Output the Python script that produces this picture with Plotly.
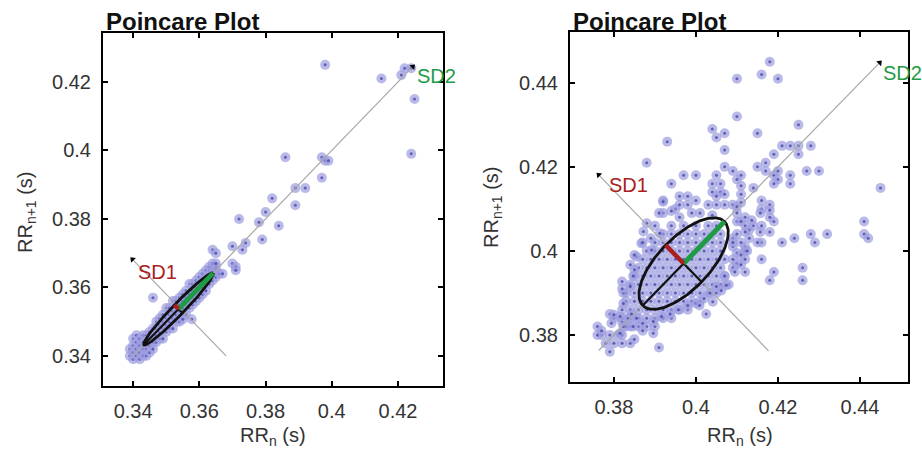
import numpy as np
import plotly.graph_objects as go

# ---------------- data ----------------
# Left panel: dense diagonal band (x, list of y)
left_band = {
    0.339: [0.340, 0.342],
    0.340: [0.339, 0.341, 0.343, 0.345],
    0.341: [0.340, 0.342, 0.344, 0.346],
    0.342: [0.339, 0.341, 0.343, 0.345],
    0.343: [0.340, 0.342, 0.344, 0.346],
    0.344: [0.340, 0.342, 0.344, 0.346],
    0.345: [0.341, 0.343, 0.345, 0.347],
    0.346: [0.342, 0.344, 0.346, 0.348],
    0.347: [0.344, 0.346, 0.348, 0.350],
    0.348: [0.345, 0.347, 0.349, 0.351],
    0.349: [0.345, 0.348, 0.350, 0.352],
    0.350: [0.347, 0.349, 0.351, 0.354],
    0.351: [0.348, 0.350, 0.352, 0.354],
    0.352: [0.348, 0.351, 0.353, 0.356],
    0.353: [0.350, 0.352, 0.354, 0.356],
    0.354: [0.350, 0.353, 0.355, 0.357],
    0.355: [0.352, 0.354, 0.356, 0.358],
    0.356: [0.352, 0.355, 0.357, 0.359],
    0.357: [0.354, 0.356, 0.358, 0.361],
    0.358: [0.355, 0.357, 0.359, 0.361],
    0.359: [0.356, 0.358, 0.360, 0.362],
    0.360: [0.357, 0.359, 0.361, 0.363],
    0.361: [0.358, 0.360, 0.362, 0.364],
    0.362: [0.359, 0.361, 0.363, 0.365],
    0.363: [0.361, 0.363, 0.365, 0.366],
    0.364: [0.362, 0.364, 0.366],
    0.365: [0.363, 0.365, 0.366],
    0.366: [0.364],
}
left_scatter = [
    (0.346, 0.357), (0.355, 0.3507), (0.3577, 0.3507),
    (0.398, 0.425), (0.415, 0.421), (0.421, 0.422), (0.422, 0.424), (0.424, 0.424),
    (0.425, 0.415), (0.424, 0.399), (0.386, 0.398), (0.397, 0.398), (0.398, 0.397),
    (0.399, 0.397), (0.397, 0.392), (0.389, 0.389), (0.392, 0.389), (0.389, 0.384),
    (0.382, 0.386), (0.380, 0.382), (0.372, 0.380), (0.378, 0.379), (0.384, 0.378),
    (0.379, 0.374), (0.374, 0.373), (0.373, 0.371), (0.370, 0.372), (0.364, 0.371),
    (0.365, 0.370), (0.364, 0.367), (0.365, 0.367), (0.370, 0.367), (0.371, 0.366),
    (0.371, 0.365), (0.367, 0.364),
]

# Right panel: dense core (y, list of x)
right_core = {
    0.382: [0.384, 0.386, 0.388, 0.390],
    0.384: [0.382, 0.384, 0.386, 0.388, 0.390, 0.392, 0.394],
    0.386: [0.382, 0.384, 0.386, 0.388, 0.390, 0.392, 0.394, 0.396, 0.398],
    0.388: [0.383, 0.385, 0.387, 0.389, 0.391, 0.393, 0.395, 0.397, 0.399, 0.401],
    0.390: [0.383, 0.385, 0.387, 0.389, 0.391, 0.393, 0.395, 0.397, 0.399, 0.401, 0.403],
    0.392: [0.384, 0.386, 0.388, 0.390, 0.392, 0.394, 0.396, 0.398, 0.400, 0.402, 0.404, 0.406],
    0.394: [0.385, 0.387, 0.389, 0.391, 0.393, 0.395, 0.397, 0.399, 0.401, 0.403, 0.405, 0.407],
    0.396: [0.386, 0.388, 0.390, 0.392, 0.394, 0.396, 0.398, 0.400, 0.402, 0.404, 0.406],
    0.398: [0.387, 0.389, 0.391, 0.393, 0.395, 0.397, 0.399, 0.401, 0.403, 0.405, 0.407],
    0.400: [0.388, 0.390, 0.392, 0.394, 0.396, 0.398, 0.400, 0.402, 0.404, 0.406],
    0.402: [0.390, 0.392, 0.394, 0.396, 0.398, 0.400, 0.402, 0.404, 0.406],
    0.404: [0.392, 0.394, 0.396, 0.398, 0.400, 0.402, 0.404, 0.406],
    0.406: [0.394, 0.397, 0.400, 0.403, 0.405],
}
right_scatter = [
    (0.418, 0.445), (0.416, 0.442), (0.420, 0.441), (0.410, 0.441), (0.410, 0.432),
    (0.404, 0.429), (0.405, 0.427), (0.407, 0.428), (0.415, 0.428), (0.425, 0.430),
    (0.393, 0.426), (0.407, 0.424), (0.421, 0.425), (0.423, 0.425), (0.425, 0.425),
    (0.428, 0.425), (0.419, 0.423), (0.425, 0.423), (0.388, 0.421), (0.407, 0.420),
    (0.415, 0.420), (0.417, 0.421), (0.417, 0.419), (0.419, 0.418), (0.420, 0.419),
    (0.420, 0.417), (0.423, 0.418), (0.423, 0.416), (0.427, 0.419), (0.430, 0.419),
    (0.419, 0.416), (0.414, 0.415), (0.445, 0.415), (0.397, 0.418), (0.400, 0.418),
    (0.405, 0.418), (0.409, 0.419), (0.411, 0.418), (0.410, 0.417), (0.394, 0.416),
    (0.411, 0.4155), (0.411, 0.4135), (0.416, 0.412), (0.418, 0.411), (0.416, 0.410),
    (0.411, 0.4115), (0.404, 0.416), (0.406, 0.416), (0.404, 0.414), (0.406, 0.414),
    (0.392, 0.412), (0.398, 0.411), (0.400, 0.412), (0.403, 0.411), (0.405, 0.411),
    (0.407, 0.411), (0.409, 0.411), (0.395, 0.410), (0.396, 0.413), (0.405, 0.413),
    (0.407, 0.4135), (0.410, 0.4105),
    (0.441, 0.407), (0.441, 0.404), (0.442, 0.403), (0.432, 0.404), (0.428, 0.404),
    (0.429, 0.402), (0.424, 0.403), (0.421, 0.402), (0.418, 0.4045), (0.419, 0.407),
    (0.418, 0.408), (0.416, 0.406), (0.414, 0.406), (0.412, 0.406), (0.410, 0.407),
    (0.413, 0.405), (0.416, 0.402), (0.415, 0.402), (0.413, 0.403), (0.412, 0.401),
    (0.412, 0.400), (0.409, 0.403), (0.409, 0.401), (0.410, 0.3995), (0.411, 0.399),
    (0.412, 0.398), (0.416, 0.398), (0.410, 0.397), (0.409, 0.396), (0.4095, 0.395),
    (0.408, 0.392), (0.419, 0.395), (0.418, 0.393), (0.426, 0.396), (0.426, 0.393),
    (0.4157, 0.409), (0.418, 0.4097), (0.4136, 0.4073), (0.412, 0.408), (0.4157, 0.4045),
    (0.392, 0.409), (0.394, 0.4095), (0.396, 0.411), (0.398, 0.413), (0.399, 0.409),
    (0.401, 0.409), (0.396, 0.408), (0.404, 0.4085), (0.410, 0.409), (0.411, 0.407),
    (0.412, 0.4045), (0.410, 0.404), (0.409, 0.402), (0.411, 0.402), (0.4125, 0.400),
    (0.409, 0.398), (0.411, 0.3967), (0.412, 0.395), (0.407, 0.394), (0.405, 0.3915),
    (0.4035, 0.390), (0.405, 0.390), (0.402, 0.3887), (0.400, 0.3875), (0.398, 0.387),
    (0.3957, 0.386), (0.3937, 0.385), (0.3916, 0.3844), (0.3896, 0.3832), (0.387, 0.3828),
    (0.3855, 0.384), (0.3835, 0.384), (0.3815, 0.3844), (0.3843, 0.385), (0.3823, 0.3875),
    (0.3823, 0.390), (0.384, 0.3915), (0.3847, 0.394), (0.384, 0.3967), (0.3855, 0.3986),
    (0.3867, 0.4018), (0.3892, 0.4002), (0.3912, 0.4042), (0.390, 0.406), (0.388, 0.4066),
    (0.3872, 0.4046), (0.382, 0.391), (0.382, 0.3927), (0.385, 0.3955), (0.387, 0.402),
    (0.385, 0.399), (0.389, 0.403), (0.391, 0.409), (0.392, 0.4117),
    (0.4074, 0.3918), (0.4062, 0.3906), (0.4041, 0.3879), (0.4025, 0.385), (0.4009, 0.387),
    (0.376, 0.382), (0.377, 0.380), (0.379, 0.380), (0.376, 0.380), (0.378, 0.378),
    (0.381, 0.380), (0.382, 0.380), (0.382, 0.378), (0.384, 0.378), (0.385, 0.379),
    (0.379, 0.385), (0.380, 0.384), (0.382, 0.383), (0.383, 0.382), (0.379, 0.376),
    (0.391, 0.377), (0.3794, 0.3828), (0.380, 0.3848), (0.3815, 0.3804), (0.3823, 0.382),
    (0.3847, 0.382), (0.387, 0.381), (0.3896, 0.3804), (0.380, 0.378), (0.377, 0.381),
]

# Poincare descriptors
left_center, left_sd1, left_sd2 = 0.3537, 0.0017, 0.0148
right_center, right_sd1, right_sd2 = 0.397, 0.0062, 0.0141
left_diag = [(0.340, 0.340), (0.4245, 0.4245)]
left_perp = [(0.3398, 0.3682), (0.3681, 0.3400)]
right_diag = [(0.3763, 0.3763), (0.4448, 0.4448)]
right_perp = [(0.3763, 0.4181), (0.4177, 0.3762)]

left_xticks = [0.34, 0.36, 0.38, 0.40, 0.42]
left_yticks = [0.34, 0.36, 0.38, 0.40, 0.42]
right_xticks = [0.38, 0.40, 0.42, 0.44]
right_yticks = [0.38, 0.40, 0.42, 0.44]
left_xrange, left_yrange = [0.3309, 0.4336], [0.3312, 0.4343]
right_xrange, right_yrange = [0.3693, 0.4517], [0.3688, 0.4521]

# ---------------- styles ----------------
FONT = "Arial, Liberation Sans, Helvetica, sans-serif"
LAV = "#9d9de0"
DOT = "#3a3a9e"
GREEN = "#1f9a45"
RED = "#a82020"
GRAY = "#a8a8a8"

fig = go.Figure()


def add_points(pts, xa, ya):
    xs, ys, sz, col = [], [], [], []
    for (px, py) in pts:
        xs += [px, px]
        ys += [py, py]
        sz += [10, 3]
        col += [LAV, DOT]
    fig.add_trace(go.Scatter(x=xs, y=ys, mode="markers", xaxis=xa, yaxis=ya,
                             marker=dict(size=sz, color=col, line=dict(width=0)),
                             showlegend=False, hoverinfo="skip"))


def ellipse_parts(c, sd1, sd2, diag, perp, xa, ya):
    u = np.array([1, 1]) / np.sqrt(2)
    v = np.array([-1, 1]) / np.sqrt(2)
    cc = np.array([c, c])
    for seg in (diag, perp):
        fig.add_trace(go.Scatter(x=[seg[0][0], seg[1][0]], y=[seg[0][1], seg[1][1]],
                                 mode="lines", line=dict(color=GRAY, width=1.2),
                                 xaxis=xa, yaxis=ya, showlegend=False, hoverinfo="skip"))
    t = np.linspace(0, 2 * np.pi, 200)
    pts = cc[None, :] + np.outer(np.cos(t) * sd2, u) + np.outer(np.sin(t) * sd1, v)
    fig.add_trace(go.Scatter(x=pts[:, 0], y=pts[:, 1], mode="lines",
                             line=dict(color="#111111", width=2.8),
                             xaxis=xa, yaxis=ya, showlegend=False, hoverinfo="skip"))
    for vec, col, w in ((-sd2 * u, "#111111", 2.2), (-sd1 * v, "#111111", 2.2),
                        (sd2 * u, GREEN, 5), (sd1 * v, RED, 4.5)):
        e = cc + vec
        fig.add_trace(go.Scatter(x=[cc[0], e[0]], y=[cc[1], e[1]], mode="lines",
                                 line=dict(color=col, width=w),
                                 xaxis=xa, yaxis=ya, showlegend=False, hoverinfo="skip"))
    fig.add_trace(go.Scatter(x=[diag[1][0], perp[0][0]], y=[diag[1][1], perp[0][1]],
                             mode="markers",
                             marker=dict(symbol="triangle-up", size=6, color="black",
                                         angle=[45, -45]),
                             xaxis=xa, yaxis=ya, showlegend=False, hoverinfo="skip"))


left_pts = [(x, y) for x, ys in left_band.items() for y in ys] + left_scatter
right_pts = [(x, y) for y, xs in right_core.items() for x in xs] + right_scatter

add_points(left_pts, "x", "y")
ellipse_parts(left_center, left_sd1, left_sd2, left_diag, left_perp, "x", "y")
add_points(right_pts, "x2", "y2")
ellipse_parts(right_center, right_sd1, right_sd2, right_diag, right_perp, "x2", "y2")

W, H = 922, 453


def axis(dom, rng, ticks, anchor):
    return dict(domain=dom, range=rng, anchor=anchor, tickvals=ticks,
                ticktext=[("%g" % t) for t in ticks], ticks="inside", ticklen=5,
                tickwidth=1.5, tickcolor="black", showline=True, linecolor="black",
                linewidth=2, mirror="ticks", showgrid=False, zeroline=False,
                tickfont=dict(family=FONT, size=20, color="#333333"),
                ticklabelstandoff=6)


fig.update_layout(
    width=W, height=H, margin=dict(l=0, r=0, t=0, b=0),
    paper_bgcolor="white", plot_bgcolor="white", showlegend=False,
    xaxis=axis([103 / W, 443 / W], left_xrange, left_xticks, "y"),
    yaxis=axis([1 - 386 / H, 1 - 33 / H], left_yrange, left_yticks, "x"),
    xaxis2=axis([570 / W, 908 / W], right_xrange, right_xticks, "y2"),
    yaxis2=axis([1 - 382 / H, 1 - 32 / H], right_yrange, right_yticks, "x2"),
)

ann = []
for x0, xt in ((104, 273), (571, 740)):
    ann.append(dict(text="<b>Poincare Plot</b>", x=x0 / W, y=1 - 6 / H, xref="paper", yref="paper",
                    xanchor="left", yanchor="top", showarrow=False,
                    font=dict(family=FONT, size=24, color="#111111")))
    ann.append(dict(text="RR<sub>n</sub> (s)", x=xt / W, y=1 - 436 / H, xref="paper", yref="paper",
                    xanchor="center", yanchor="middle", showarrow=False,
                    font=dict(family=FONT, size=20, color="#333333")))
ann.append(dict(text="RR<sub>n+1</sub> (s)", x=27 / W, y=1 - 212 / H, xref="paper", yref="paper",
                xanchor="center", yanchor="middle", textangle=-90, showarrow=False,
                font=dict(family=FONT, size=20, color="#333333")))
ann.append(dict(text="RR<sub>n+1</sub> (s)", x=492 / W, y=1 - 207 / H, xref="paper", yref="paper",
                xanchor="center", yanchor="middle", textangle=-90, showarrow=False,
                font=dict(family=FONT, size=20, color="#333333")))
for txt, col, x, y, xr, yr in (("SD2", GREEN, 0.4251, 0.4218, "x", "y"),
                               ("SD1", RED, 0.3409, 0.3645, "x", "y"),
                               ("SD2", GREEN, 0.4451, 0.4424, "x2", "y2"),
                               ("SD1", RED, 0.3783, 0.4157, "x2", "y2")):
    ann.append(dict(text=txt, x=x, y=y, xref=xr, yref=yr, xanchor="left", yanchor="middle",
                    showarrow=False, font=dict(family=FONT, size=20, color=col)))
fig.update_layout(annotations=ann)

fig.write_html("out.html")
